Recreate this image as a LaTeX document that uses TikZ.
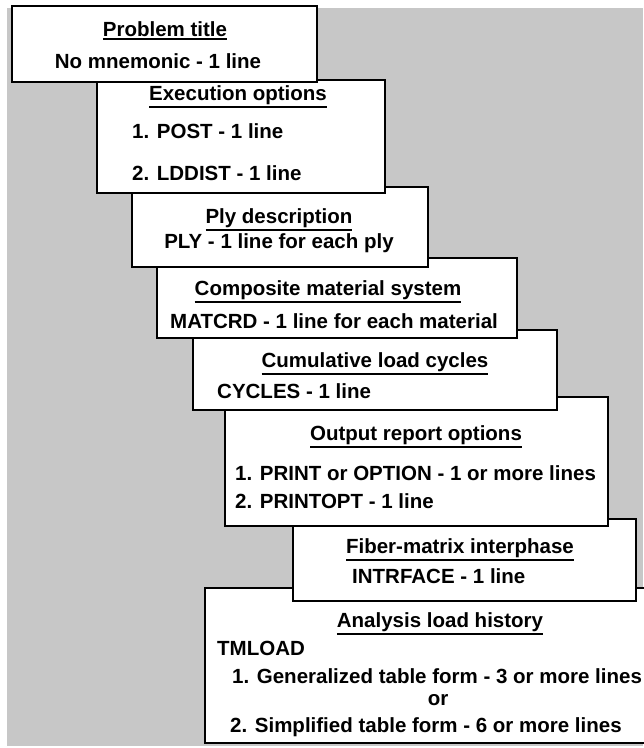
\documentclass[tikz,border=0pt]{standalone}
\usepackage{fontspec}
\setmainfont{Liberation Sans}
\newcommand\hdline[1]{\vtop{\hbox{#1}\kern2.2pt\hrule height 1.8pt}}
\begin{document}
\begin{tikzpicture}[x=1pt,y=-1pt,
  box/.style={draw=black, line width=2.6pt, fill=white, line join=miter},
  txt/.style={inner sep=0pt, font=\fontsize{20.5}{24}\selectfont\bfseries},
  ctr/.style={txt, anchor=base},
  lft/.style={txt, anchor=base west}]
\useasboundingbox (0,0) rectangle (644,748);
\fill[black!22] (7,8) rectangle (643,746);
% boxes, drawn from the last to the first so that earlier ones lie on top
\draw[box] (205,588) rectangle (665,743);
\draw[box] (293,519) rectangle (636,601);
\draw[box] (225,397) rectangle (608,526);
\draw[box] (193,330) rectangle (557,410);
\draw[box] (157,258) rectangle (517,338);
\draw[box] (132,187) rectangle (428,267);
\draw[box] (97,80) rectangle (385,193);
\draw[box] (12,6) rectangle (317,82);
% texts
\node[ctr] (t1h) at (165,36) {\hdline{Problem title}};
\node[ctr] (t1a) at (158,68) {No mnemonic - 1 line};
\node[ctr] (t2h) at (238,100) {\hdline{Execution options}};
\node[lft] (t2a) at (132,138) {1. POST - 1 line};
\node[lft] (t2b) at (132,180) {2. LDDIST - 1 line};
\node[ctr] (t3h) at (279,223) {\hdline{Ply description}};
\node[ctr] (t3a) at (279,248) {PLY - 1 line for each ply};
\node[ctr] (t4h) at (328,295) {\hdline{Composite material system}};
\node[lft] (t4a) at (170,328) {MATCRD - 1 line for each material};
\node[ctr] (t5h) at (375,367) {\hdline{Cumulative load cycles}};
\node[lft] (t5a) at (217,398) {CYCLES - 1 line};
\node[ctr] (t6h) at (416,440) {\hdline{Output report options}};
\node[lft] (t6a) at (235,480) {1. PRINT or OPTION - 1 or more lines};
\node[lft] (t6b) at (235,508) {2. PRINTOPT - 1 line};
\node[ctr] (t7h) at (460,553) {\hdline{Fiber-matrix interphase}};
\node[lft] (t7a) at (352,583) {INTRFACE - 1 line};
\node[ctr] (t8h) at (440,627) {\hdline{Analysis load history}};
\node[lft] (t8a) at (217,655) {TMLOAD};
\node[lft] (t8b) at (232,683) {1. Generalized table form - 3 or more lines};
\node[ctr] (t8c) at (438,705) {or};
\node[lft] (t8d) at (230,732) {2. Simplified table form - 6 or more lines};
\end{tikzpicture}
\end{document}
